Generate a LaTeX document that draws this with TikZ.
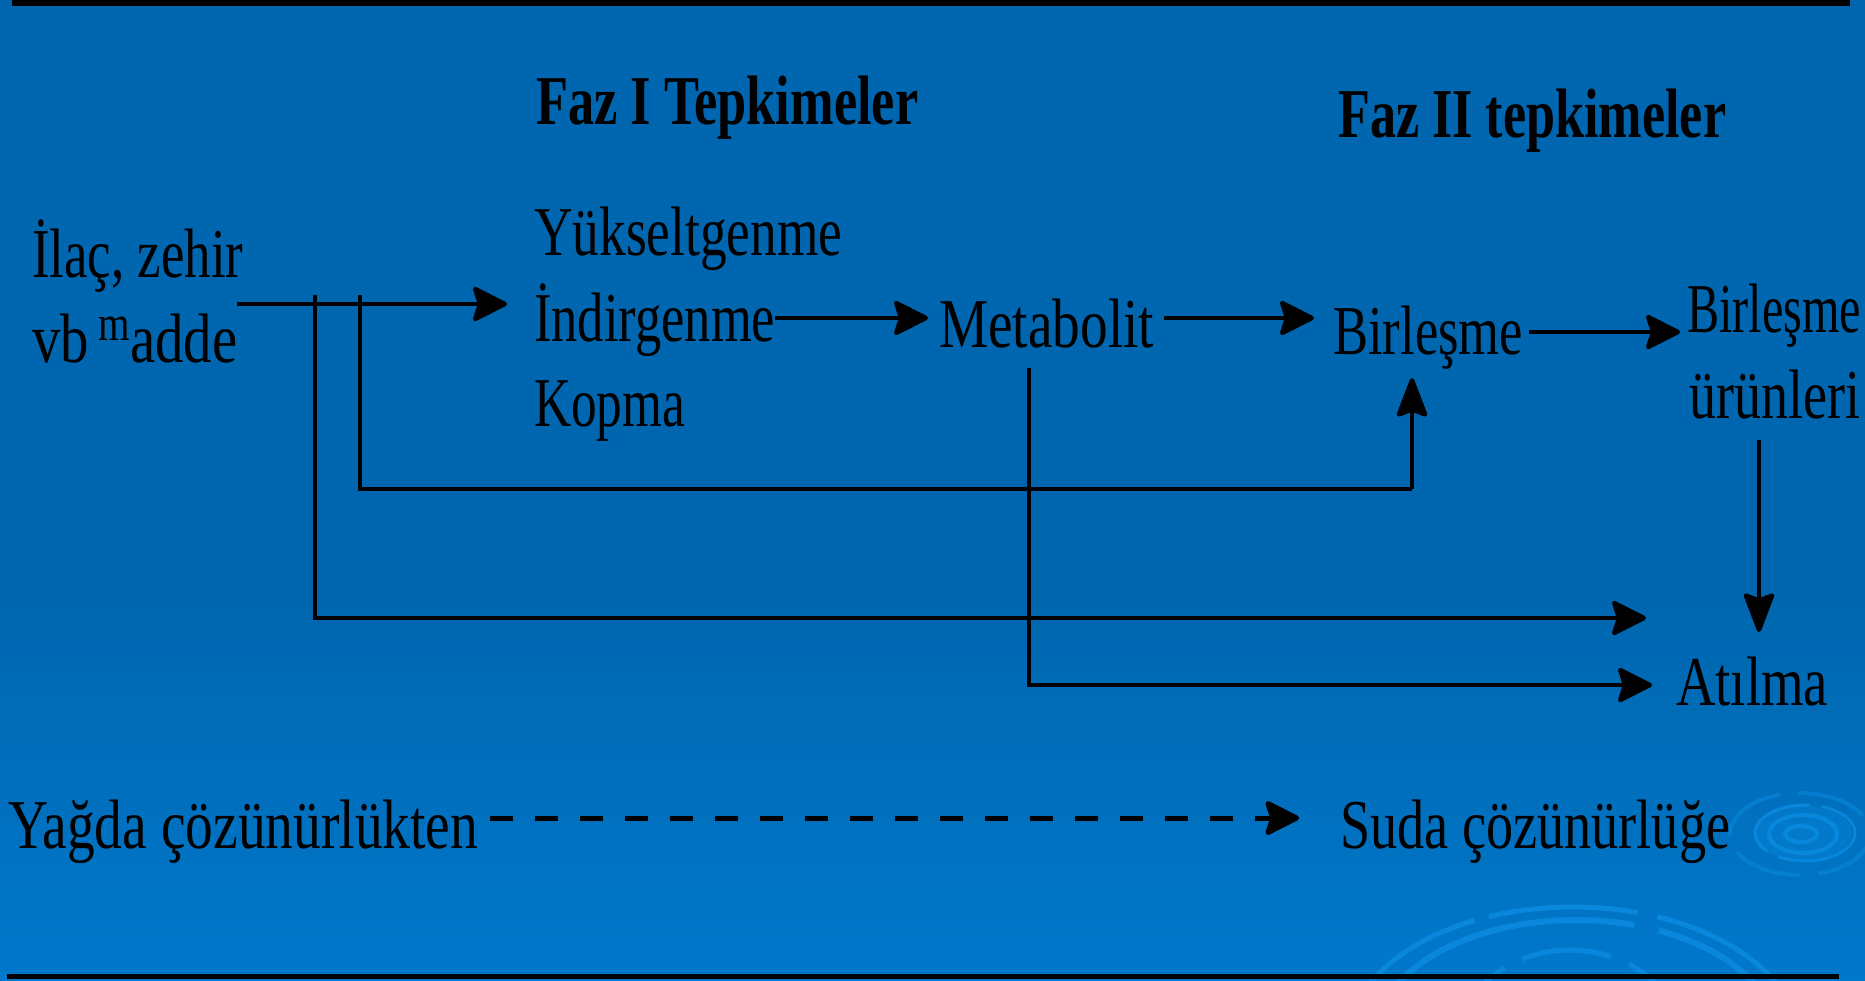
\documentclass[tikz,border=0pt]{standalone}
\usepackage{fontspec}
\setmainfont{Liberation Serif}
\usetikzlibrary{arrows.meta}
\definecolor{bgtop}{HTML}{0066AF}
\definecolor{bgbot}{HTML}{0078CB}
\definecolor{ripple}{HTML}{0A8CE2}
\newcommand\fitw[2]{\resizebox{#1}{\height}{#2}}
\tikzset{
  txt/.style={anchor=base west, inner sep=0pt, text=black, font=\fontsize{70}{70}\selectfont},
  head/.style={txt, font=\fontsize{70}{70}\selectfont\bfseries},
  conn/.style={draw=black, line width=4.5pt},
  harr/.style={conn, -{Stealth[length=38pt,width=38pt,inset=6pt,round]}},
  varr/.style={conn, -{Stealth[length=44pt,width=33pt,inset=6pt,round]}},
  rule/.style={draw=black, line width=5.5pt},
  ring/.style={draw=ripple, line width=5pt, opacity=0.8}
}
\begin{document}
\begin{tikzpicture}[x=1pt,y=-1pt]
\useasboundingbox (0,0) rectangle (1865,980);
\clip (0,0) rectangle (1865,980);
% background
\fill[bgtop] (0,0) rectangle (1865,980);
\shade[top color=bgtop, bottom color=bgbot] (0,600) rectangle (1865,980);
% ripple decorations
\fill[ripple, opacity=0.3] (1803,833) ellipse [x radius=49, y radius=27];
\draw[ring, line width=4pt] (1801,834) ellipse [x radius=16, y radius=8];
\draw[ring, line width=4pt] (1803,834) ellipse [x radius=34, y radius=19];
\draw[ring, line width=3pt, dash pattern=on 90pt off 12pt] (1805,833) ellipse [x radius=50, y radius=28];
\draw[ring, line width=4pt, opacity=0.5, dash pattern=on 70pt off 18pt] (1800,834) ellipse [x radius=70, y radius=41];
\draw[ring, line width=5pt, dash pattern=on 150pt off 20pt on 200pt off 15pt] (1573,1040) ellipse [x radius=224, y radius=133];
\draw[ring, line width=6pt, dash pattern=on 260pt off 25pt] (1576,1040) ellipse [x radius=202, y radius=120];
\draw[ring, line width=5pt, dash pattern=on 90pt off 20pt] (1570,1045) ellipse [x radius=112, y radius=95];
% rules
\draw[rule] (12,3) -- (1850,3);
\draw[rule] (7,976.5) -- (1839,976.5);
% texts
\node[head] (f1) at (536,124) {\fitw{382pt}{Faz I Tepkimeler}};
\node[head] (f2) at (1338,137) {\fitw{388pt}{Faz II tepkimeler}};
\node[txt] (src1) at (32,277) {\fitw{211pt}{İlaç, zehir}};
\node[txt] (src2) at (32,362) {\fitw{205pt}{vb\,\raisebox{22pt}{\fontsize{50}{50}\selectfont m}adde}};
\node[txt] (y1) at (534,255) {\fitw{308pt}{Yükseltgenme}};
\node[txt] (y2) at (534,341) {\fitw{241pt}{İndirgenme}};
\node[txt] (y3) at (534,426) {\fitw{151pt}{Kopma}};
\node[txt] (met) at (939,347) {\fitw{215pt}{Metabolit}};
\node[txt] (bir) at (1333,354) {\fitw{190pt}{Birleşme}};
\node[txt] (bu1) at (1687,332) {\fitw{174pt}{Birleşme}};
\node[txt] (bu2) at (1689,418) {\fitw{171pt}{ürünleri}};
\node[txt] (atl) at (1676,705) {\fitw{152pt}{Atılma}};
\node[txt] (yag) at (8,848) {\fitw{470pt}{Yağda çözünürlükten}};
\node[txt] (suda) at (1340,848) {\fitw{390pt}{Suda çözünürlüğe}};
% connector points
\coordinate (a1s) at (237,304);
\coordinate (a1e) at (507,304);
\coordinate (b1top) at (315,295);
\coordinate (b1tip) at (1646,618);
\coordinate (b2top) at (360,295);
\coordinate (b2c) at (1412,489);
\coordinate (b2tip) at (1412,378);
\coordinate (a2s) at (775,318);
\coordinate (a2e) at (928,318);
\coordinate (a3s) at (1164,318);
\coordinate (a3e) at (1314,318);
\coordinate (a4s) at (1529,332);
\coordinate (a4e) at (1680,332);
\coordinate (mtop) at (1029,368);
\coordinate (mtip) at (1652,685);
\coordinate (utop) at (1759,440);
\coordinate (utip) at (1759,632);
\coordinate (ds) at (490,818);
\coordinate (de) at (1299,818);
% connectors
\draw[harr] (a1s) -- (a1e);
\draw[harr] (b1top) |- (b1tip);
\draw[conn] (b2top) |- (b2c);
\draw[varr] (b2c) -- (b2tip);
\draw[harr] (a2s) -- (a2e);
\draw[harr] (a3s) -- (a3e);
\draw[harr] (a4s) -- (a4e);
\draw[harr] (mtop) |- (mtip);
\draw[varr] (utop) -- (utip);
\draw[harr, line width=5pt, dash pattern=on 23pt off 22pt] (ds) -- (de);
\end{tikzpicture}
\end{document}
